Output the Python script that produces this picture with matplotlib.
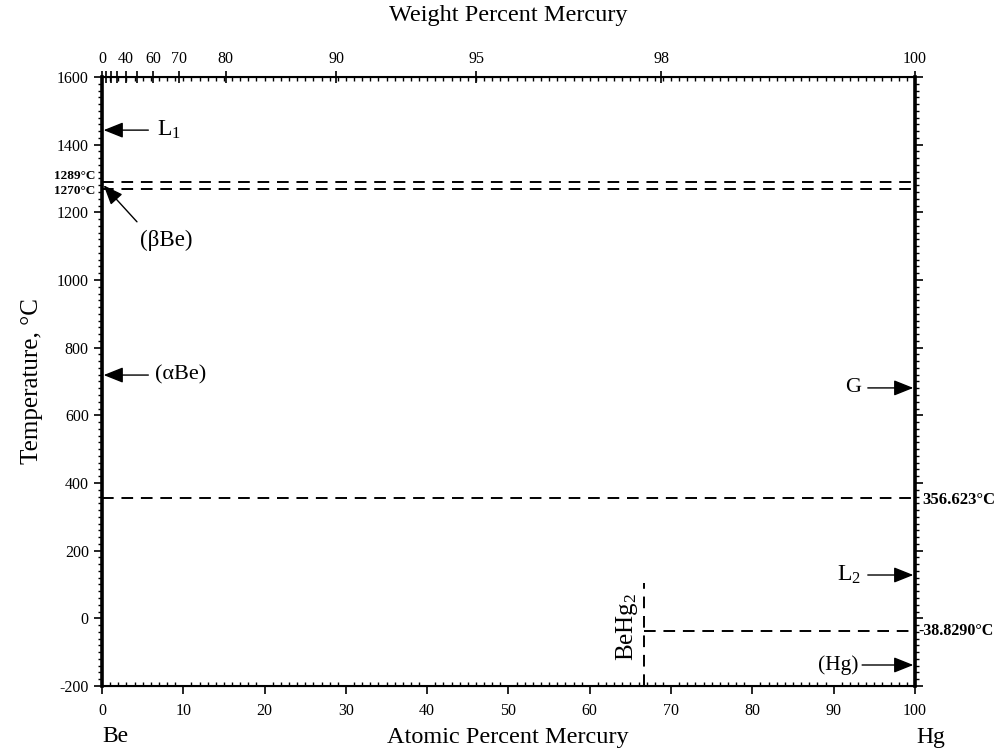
import matplotlib
matplotlib.use("Agg")
import matplotlib.pyplot as plt
import numpy as np

plt.rcParams['font.family'] = ['Liberation Serif', 'DejaVu Serif']
plt.rcParams['mathtext.fontset'] = 'custom'
plt.rcParams['mathtext.rm'] = 'Liberation Serif'
plt.rcParams['mathtext.it'] = 'Liberation Serif'
plt.rcParams['axes.unicode_minus'] = False

# ---- data ----
x_ticks = [0, 10, 20, 30, 40, 50, 60, 70, 80, 90, 100]
y_ticks = [-200, 0, 200, 400, 600, 800, 1000, 1200, 1400, 1600]
wt_ticks = [0, 10, 20, 30, 40, 50, 60, 70, 80, 90, 95, 98, 100]
wt_labels = ['0', '', '', '', '40', '', '60', '70', '80', '90', '95', '98', '100']
iso_temps = [1289, 1270, 356.623]          # full-width dashed isotherms
iso_labels = ['1289°C', '1270°C', '356.623°C']
hg_eut_T = -38.829
hg_eut_label = '-38.8290°C'
behg2_x = 66.67
behg2_top = 105
M_BE, M_HG = 9.012, 200.59


def wt_to_at(w):
    w = np.asarray(w, dtype=float)
    a = w / M_HG
    b = (100 - w) / M_BE
    return 100 * a / (a + b)


fig = plt.figure(figsize=(10.05, 7.52), dpi=100)
ax = fig.add_axes([0.1015, 0.0878, 0.8089, 0.8098])
ax.set_xlim(0, 100)
ax.set_ylim(-200, 1600)

dash = dict(color='black', lw=1.4, ls=(0, (6, 4)))
ax.plot([0, 100], [iso_temps[0]] * 2, **dash)
ax.plot([0, 100], [iso_temps[1]] * 2, **dash)
ax.plot([0, 100], [iso_temps[2]] * 2, **dash)
ax.plot([behg2_x, 100], [hg_eut_T] * 2, **dash)
ax.plot([behg2_x, behg2_x], [-200, behg2_top], **dash)

# ticks
ax.set_xticks(x_ticks)
ax.set_xticks(np.arange(0, 101, 1), minor=True)
ax.set_yticks(y_ticks)
ax.set_yticks(np.arange(-200, 1601, 20), minor=True)
ax.tick_params(axis='both', which='major', labelsize=11.5, length=6, width=1.2)
ax.tick_params(axis='both', which='minor', length=3, width=1.0)
ax.tick_params(axis='x', which='major', direction='out', pad=6)
ax.tick_params(axis='x', which='minor', direction='in')
ax.tick_params(axis='y', which='both', direction='out', right=True, left=True)
for side in ['left', 'right']:
    ax.spines[side].set_linewidth(2.6)
ax.spines['bottom'].set_linewidth(1.5)
ax.spines['top'].set_linewidth(1.5)

# top weight percent axis
top = ax.twiny()
top.set_xlim(0, 100)
top.set_xticks(wt_to_at(wt_ticks))
top.set_xticklabels(wt_labels)
top.set_xticks(np.arange(0, 101, 1), minor=True)
top.tick_params(axis='x', which='major', direction='inout', length=9, width=1.2, labelsize=11.5, pad=3)
top.tick_params(axis='x', which='minor', direction='in', length=3, width=1.0)

fig.text(0.5055, 1 - 15 / 752, 'Weight Percent Mercury', fontsize=17.5, ha='center', va='center')
fig.text(0.5055, 1 - 737 / 752, 'Atomic Percent Mercury', fontsize=17.5, ha='center', va='center')
ax.set_ylabel('Temperature, °C', fontsize=18, labelpad=10)
fig.text(102 / 1005, 1 - 737 / 752, 'Be', fontsize=17, ha='left', va='center')
fig.text(931 / 1005, 1 - 737 / 752, 'Hg', fontsize=17, ha='center', va='center')

# isotherm labels
ax.text(-0.85, 1307, iso_labels[0], ha='right', va='center', fontsize=9.5, fontweight='bold')
ax.text(-0.85, 1262, iso_labels[1], ha='right', va='center', fontsize=9.5, fontweight='bold')
ax.text(100.9, iso_temps[2] - 6, iso_labels[2], ha='left', va='center', fontsize=12, fontweight='bold')
ax.text(100.4, hg_eut_T, hg_eut_label, ha='left', va='center', fontsize=11.5, fontweight='bold')
ax.text(behg2_x - 0.5, -25, 'BeHg$_2$', rotation=90, ha='right', va='center', fontsize=18)

# arrows
arr = dict(arrowstyle='-|>,head_length=1.2,head_width=0.48', color='black', lw=1.0,
           shrinkA=0, shrinkB=0)


def arrow(x0, y0, x1, y1):
    ax.annotate('', xy=(x1, y1), xytext=(x0, y0), xycoords='data', textcoords='data',
                arrowprops=arr, annotation_clip=False)


arrow(5.7, 1443, 0.2, 1443)
ax.text(6.8, 1443, 'L$_1$', fontsize=17, ha='left', va='center')
arrow(4.3, 1172, 0.2, 1280)
ax.text(4.7, 1118, '(βBe)', fontsize=16.5, ha='left', va='center')
arrow(5.7, 719, 0.2, 719)
ax.text(6.5, 719, '(αBe)', fontsize=16, ha='left', va='center')
arrow(94.2, 681, 99.8, 681)
ax.text(93.4, 681, 'G', fontsize=16, ha='right', va='center')
arrow(94.2, 128, 99.8, 128)
ax.text(93.4, 128, 'L$_2$', fontsize=17, ha='right', va='center')
arrow(93.5, -138, 99.8, -138)
ax.text(93.0, -138, '(Hg)', fontsize=15.5, ha='right', va='center')

fig.savefig('out.png', dpi=100)
